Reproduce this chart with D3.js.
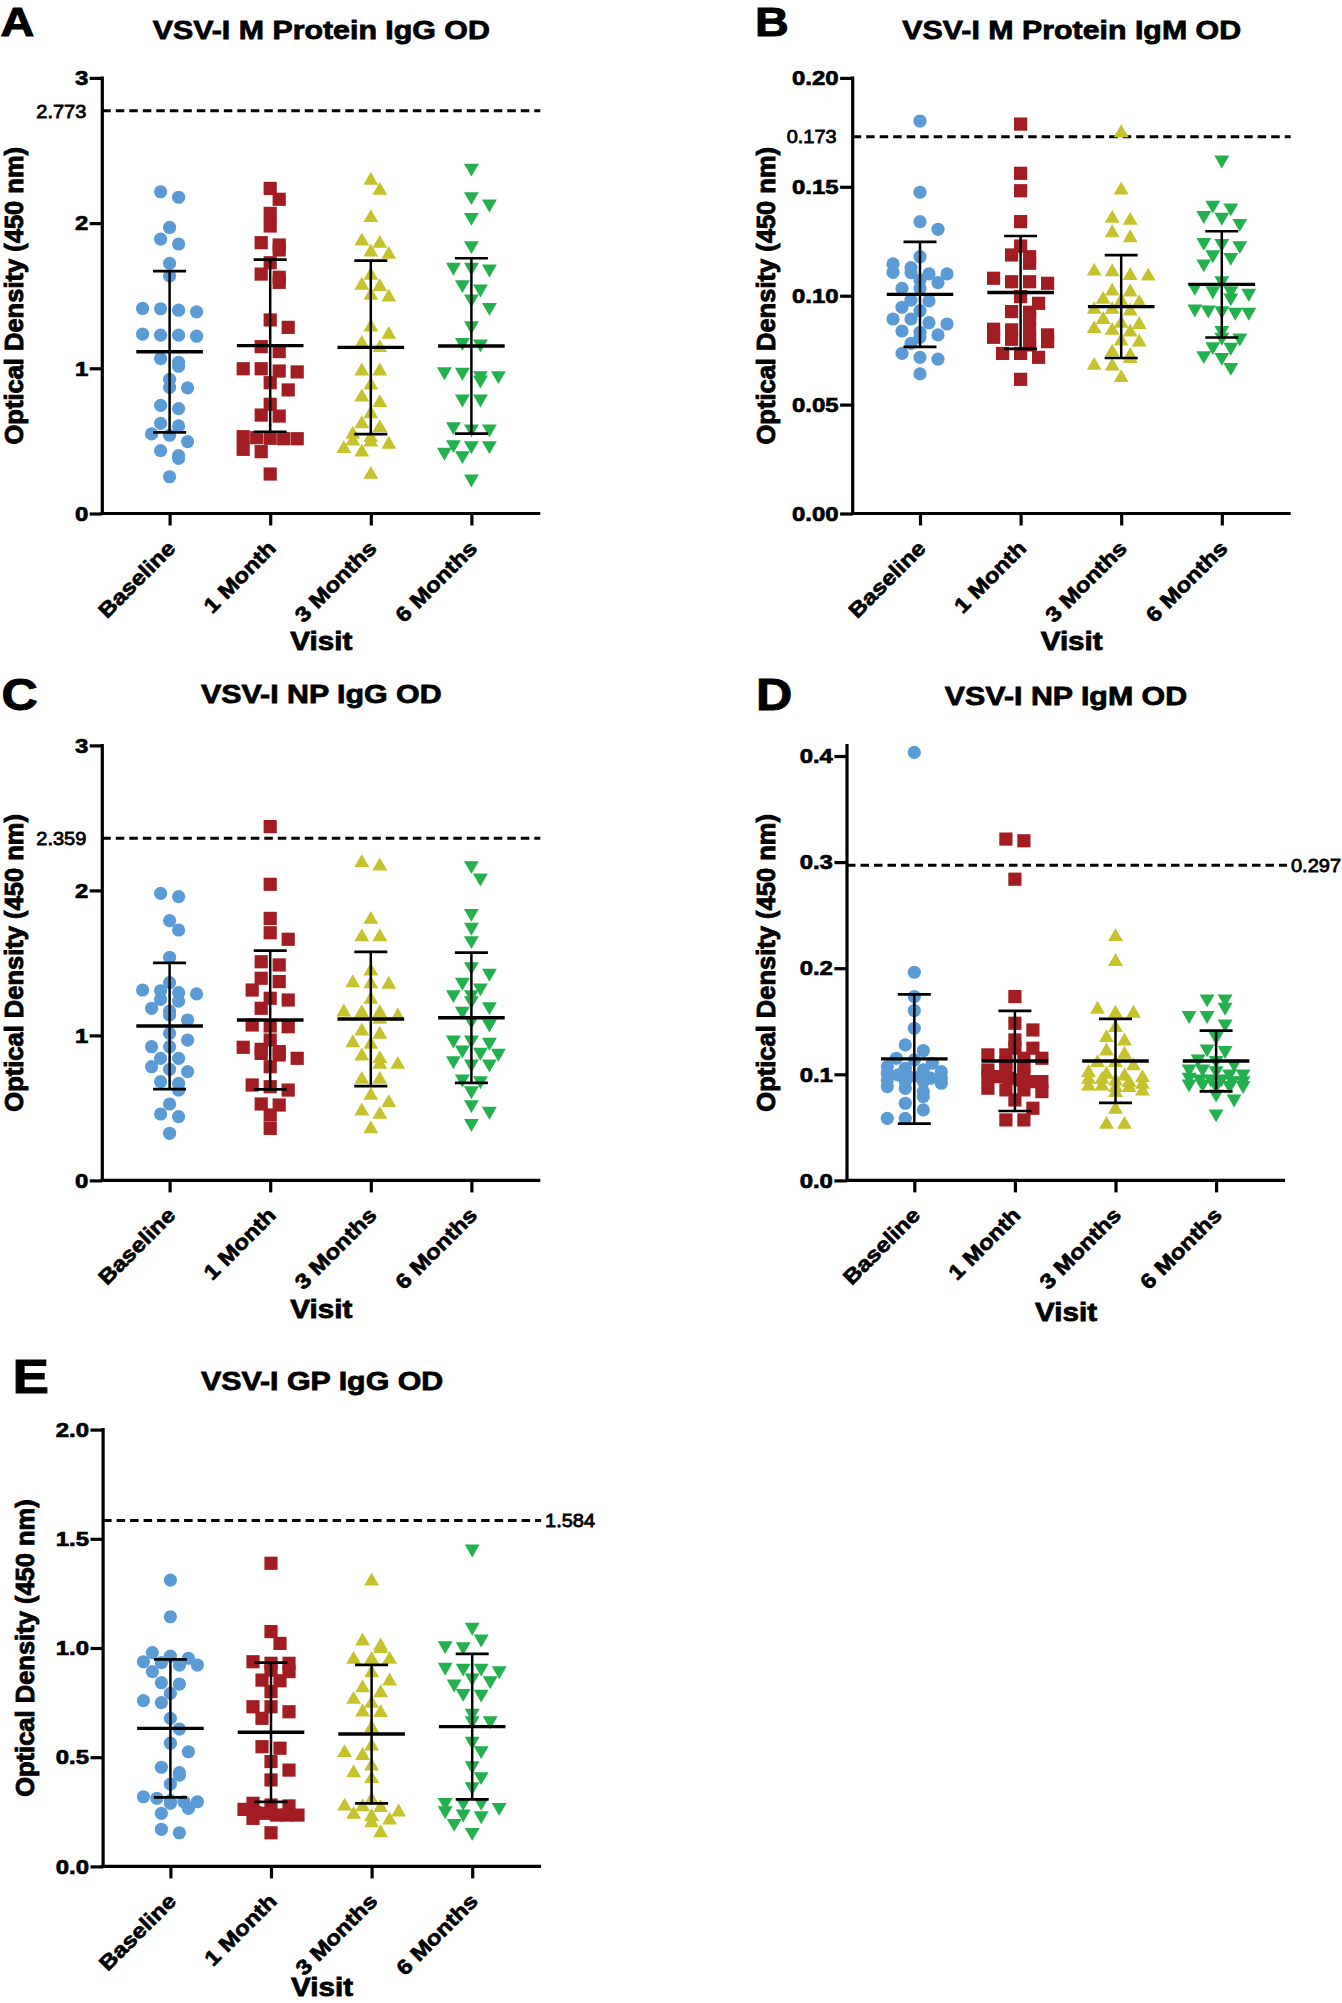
<!DOCTYPE html>
<html><head><meta charset="utf-8">
<script src="https://cdn.jsdelivr.net/npm/d3@7"></script>
<style>
body{margin:0;background:#fff}
svg{display:block}
text{font-family:"Liberation Sans",Arial,sans-serif;font-weight:bold;fill:#000;stroke:#000;stroke-width:0.6px;paint-order:stroke}
</style>
</head><body>
<svg id="chart" width="1342" height="2003"></svg>
<script>
// ---------------- DATA ----------------
const categories = ["Baseline", "1 Month", "3 Months", "6 Months"];
const panelLetters = ["A", "B", "C", "D", "E"];
const panelTitles = ["VSV-I M Protein IgG OD", "VSV-I M Protein IgM OD", "VSV-I NP IgG OD", "VSV-I NP IgM OD", "VSV-I GP IgG OD"];
const yAxisTitle = "Optical Density (450 nm)";
const xAxisTitle = "Visit";
const cutoffs = [2.773, 0.173, 2.359, 0.297, 1.584];
const cutoffLabels = ["2.773", "0.173", "2.359", "0.297", "1.584"];
const yTicksA = [0, 1, 2, 3];
const yTicksB = [0, 0.05, 0.10, 0.15, 0.20];
const yTicksC = [0, 1, 2, 3];
const yTicksD = [0, 0.1, 0.2, 0.3, 0.4];
const yTicksE = [0, 0.5, 1.0, 1.5, 2.0];
const yMaxes = [3, 0.2, 3, 0.41, 2];
const yTickFormats = ["d", ".2f", "d", ".1f", ".1f"];

// Panel A: VSV-I M Protein IgG OD
const mProteinIgG = [
  [2.216, 2.178, 1.970, 1.890, 1.856, 1.723, 1.636, 1.410, 1.412, 1.389, 1.400, 1.221, 1.228, 1.235, 1.228, 1.067, 1.041, 1.014, 0.924, 0.869, 0.865, 0.745, 0.722, 0.621, 0.603, 0.539, 0.548, 0.495, 0.398, 0.380, 0.433, 0.253],
  [2.239, 2.164, 2.067, 1.980, 1.865, 1.849, 1.815, 1.727, 1.649, 1.627, 1.592, 1.333, 1.282, 1.149, 1.115, 0.997, 0.997, 0.981, 0.975, 0.901, 0.851, 0.752, 0.678, 0.671, 0.515, 0.529, 0.522, 0.518, 0.515, 0.442, 0.426, 0.272],
  [2.290, 2.221, 2.033, 1.872, 1.856, 1.796, 1.780, 1.636, 1.558, 1.567, 1.486, 1.498, 1.280, 1.229, 1.167, 1.138, 0.977, 0.977, 0.880, 0.798, 0.759, 0.683, 0.614, 0.587, 0.541, 0.472, 0.495, 0.518, 0.488, 0.442, 0.419, 0.265],
  [2.383, 2.187, 2.136, 2.044, 1.849, 1.700, 1.688, 1.700, 1.581, 1.551, 1.482, 1.424, 1.298, 1.172, 1.183, 0.954, 0.981, 0.924, 0.954, 0.977, 0.793, 0.793, 0.587, 0.587, 0.603, 0.472, 0.479, 0.403, 0.472, 0.426, 0.242]
];
const mProteinIgGMean = [1.114, 1.156, 1.144, 1.154];
const mProteinIgGSD = [0.555, 0.593, 0.597, 0.604];

// Panel B: VSV-I M Protein IgM OD
const mProteinIgM = [
  [0.1802, 0.1475, 0.1340, 0.1305, 0.1179, 0.1146, 0.1100, 0.1106, 0.1100, 0.1129, 0.1107, 0.1072, 0.1060, 0.1034, 0.1034, 0.0980, 0.0976, 0.0947, 0.0931, 0.0893, 0.0876, 0.0893, 0.0870, 0.0832, 0.0838, 0.0809, 0.0820, 0.0781, 0.0717, 0.0735, 0.0709, 0.0641],
  [0.1788, 0.1562, 0.1482, 0.1340, 0.1228, 0.1179, 0.1187, 0.1149, 0.1064, 0.1064, 0.1057, 0.1080, 0.0996, 0.0924, 0.0965, 0.0927, 0.0896, 0.0843, 0.0820, 0.0843, 0.0846, 0.0809, 0.0797, 0.0774, 0.0789, 0.0717, 0.0616, 0.0735, 0.0735, 0.0800],
  [0.1745, 0.1482, 0.1352, 0.1343, 0.1286, 0.1263, 0.1107, 0.1087, 0.1090, 0.1110, 0.1014, 0.1018, 0.0980, 0.0934, 0.0965, 0.0973, 0.0927, 0.0934, 0.0870, 0.0888, 0.0846, 0.0838, 0.0865, 0.0830, 0.0784, 0.0789, 0.0723, 0.0738, 0.0677, 0.0708, 0.0674, 0.0621],
  [0.1626, 0.1406, 0.1371, 0.1419, 0.1363, 0.1335, 0.1248, 0.1243, 0.1233, 0.1191, 0.1179, 0.1149, 0.1072, 0.1026, 0.1014, 0.1041, 0.0993, 0.1026, 0.0937, 0.0934, 0.0942, 0.0927, 0.0927, 0.0809, 0.0769, 0.0812, 0.0766, 0.0728, 0.0720, 0.0674, 0.0843]
];
const mProteinIgMMean = [0.1006, 0.1015, 0.0950, 0.1052];
const mProteinIgMSD = [0.0241, 0.0259, 0.0236, 0.0244];

// Panel C: VSV-I NP IgG OD
const npIgG = [
  [1.980, 1.957, 1.791, 1.727, 1.538, 1.364, 1.295, 1.313, 1.286, 1.308, 1.237, 1.249, 1.187, 1.168, 1.141, 1.106, 1.014, 0.968, 0.922, 0.922, 0.842, 0.842, 0.766, 0.750, 0.784, 0.681, 0.669, 0.623, 0.527, 0.458, 0.440, 0.325],
  [2.440, 2.042, 1.807, 1.708, 1.663, 1.508, 1.486, 1.394, 1.371, 1.313, 1.256, 1.244, 1.187, 1.072, 1.060, 1.065, 0.968, 0.904, 0.842, 0.865, 0.876, 0.888, 0.918, 0.784, 0.658, 0.623, 0.646, 0.527, 0.520, 0.451, 0.359],
  [2.187, 2.164, 1.796, 1.676, 1.676, 1.440, 1.352, 1.348, 1.359, 1.244, 1.152, 1.106, 1.152, 1.129, 1.157, 1.003, 0.945, 0.934, 1.026, 0.835, 0.853, 0.796, 0.796, 0.692, 0.692, 0.532, 0.582, 0.474, 0.451, 0.352],
  [2.175, 2.090, 1.846, 1.750, 1.658, 1.433, 1.479, 1.332, 1.371, 1.286, 1.244, 1.286, 1.203, 1.171, 1.106, 1.083, 0.973, 0.973, 0.957, 0.904, 0.881, 0.888, 0.830, 0.807, 0.807, 0.692, 0.704, 0.623, 0.527, 0.481, 0.398]
];
const npIgGMean = [1.065, 1.106, 1.113, 1.122];
const npIgGSD = [0.435, 0.478, 0.463, 0.449];

// Panel D: VSV-I NP IgM OD
const npIgM = [
  [0.4034, 0.1962, 0.1733, 0.1601, 0.1434, 0.1277, 0.1224, 0.1151, 0.1136, 0.0963, 0.1010, 0.0978, 0.0947, 0.0994, 0.1041, 0.0931, 0.0931, 0.0884, 0.1025, 0.0868, 0.0837, 0.0916, 0.1104, 0.1073, 0.0727, 0.0664, 0.0585, 0.0585, 0.1057, 0.0978, 0.0963, 0.0790],
  [0.3217, 0.3201, 0.2839, 0.1733, 0.1481, 0.1418, 0.1324, 0.1246, 0.1246, 0.1151, 0.1183, 0.1151, 0.1183, 0.1104, 0.1041, 0.1073, 0.1041, 0.0931, 0.0947, 0.0963, 0.0931, 0.0978, 0.0978, 0.0853, 0.0853, 0.0837, 0.0869, 0.0680, 0.0570, 0.0570, 0.0758, 0.1010],
  [0.2292, 0.2057, 0.1607, 0.1569, 0.1569, 0.1434, 0.1340, 0.1308, 0.1214, 0.1183, 0.1104, 0.1104, 0.1073, 0.0931, 0.0947, 0.0963, 0.0978, 0.0947, 0.1010, 0.0900, 0.0884, 0.0868, 0.0868, 0.0884, 0.0821, 0.0837, 0.0664, 0.0522, 0.0522, 0.0994, 0.0916],
  [0.1717, 0.1717, 0.1638, 0.1560, 0.1560, 0.1481, 0.1362, 0.1246, 0.1230, 0.1151, 0.1136, 0.1041, 0.1057, 0.1057, 0.0963, 0.0963, 0.0947, 0.0978, 0.0963, 0.0947, 0.0900, 0.0900, 0.0916, 0.0916, 0.0821, 0.0774, 0.0633, 0.1010, 0.1010, 0.0900, 0.1104]
];
const npIgMMean = [0.1145, 0.1126, 0.1126, 0.1126];
const npIgMSD = [0.0609, 0.0472, 0.0396, 0.0286];

// Panel E: VSV-I GP IgG OD
const gpIgG = [
  [1.311, 1.143, 0.963, 0.933, 0.937, 0.979, 0.953, 0.922, 0.922, 0.892, 0.841, 0.835, 0.792, 0.759, 0.750, 0.678, 0.629, 0.564, 0.525, 0.454, 0.418, 0.429, 0.377, 0.296, 0.319, 0.312, 0.301, 0.289, 0.296, 0.243, 0.266, 0.154, 0.170],
  [1.388, 1.075, 1.021, 0.937, 0.930, 0.899, 0.892, 0.853, 0.850, 0.800, 0.708, 0.731, 0.678, 0.548, 0.541, 0.480, 0.441, 0.396, 0.281, 0.277, 0.289, 0.261, 0.246, 0.243, 0.235, 0.235, 0.220, 0.235, 0.154, 0.731, 0.930],
  [1.304, 0.994, 1.006, 1.029, 0.945, 0.945, 0.945, 0.884, 0.846, 0.815, 0.792, 0.762, 0.744, 0.701, 0.704, 0.632, 0.548, 0.518, 0.505, 0.457, 0.426, 0.399, 0.246, 0.270, 0.273, 0.266, 0.301, 0.209, 0.197, 0.225, 0.235, 0.151],
  [1.456, 1.098, 1.044, 1.014, 1.009, 0.899, 0.915, 0.911, 0.911, 0.866, 0.853, 0.838, 0.795, 0.792, 0.704, 0.670, 0.670, 0.576, 0.533, 0.464, 0.414, 0.368, 0.296, 0.296, 0.273, 0.296, 0.258, 0.235, 0.243, 0.200, 0.159]
];
const gpIgGMean = [0.632, 0.614, 0.606, 0.640];
const gpIgGSD = [0.316, 0.319, 0.317, 0.333];

// ---------------- STYLE / LAYOUT ----------------
const groupColors = ["#5B9BD5", "#A11D21", "#C6C22B", "#22B14C"];
const groupSymbols = [d3.symbolCircle, d3.symbolSquare, d3.symbolTriangle, d3.symbolTriangle];
const groupSymbolSizes = [137, 174, 96, 96];
const groupRotate = [0, 0, 0, 180];

const panels = [
  {data: mProteinIgG, mean: mProteinIgGMean, sd: mProteinIgGSD, ticks: yTicksA,
   x0: 102.3, top: 77.9, bot: 513.5, ylabX: 23, letterX: 0.5, letterY: 36, letterSize: 41, titleY: 38.7, cutSide: "left", visitY: 650},
  {data: mProteinIgM, mean: mProteinIgMMean, sd: mProteinIgMSD, ticks: yTicksB,
   x0: 852.7, top: 77.9, bot: 513.5, ylabX: 775, letterX: 755, letterY: 36, letterSize: 41, titleY: 38.7, cutSide: "left", visitY: 650},
  {data: npIgG, mean: npIgGMean, sd: npIgGSD, ticks: yTicksC,
   x0: 102.3, top: 745.4, bot: 1180.4, ylabX: 23, letterX: 1.5, letterY: 710, letterSize: 44, titleY: 703.4, cutSide: "left", visitY: 1318},
  {data: npIgM, mean: npIgMMean, sd: npIgMSD, ticks: yTicksD,
   x0: 847, top: 745.4, bot: 1180.4, ylabX: 775, letterX: 756, letterY: 709.5, letterSize: 44, titleY: 704.7, cutSide: "right", visitY: 1321},
  {data: gpIgG, mean: gpIgGMean, sd: gpIgGSD, ticks: yTicksE,
   x0: 103.1, top: 1429.6, bot: 1866.4, ylabX: 33.7, letterX: 12.5, letterY: 1392.5, letterSize: 48, titleY: 1389.9, cutSide: "right", visitY: 1996}
];
const plotW = 438, firstCat = 67.3, catStep = 100.6;
const STRETCH = 1.14;

const svg = d3.select("#chart");

function stretch(sel, k) {
  sel.each(function () {
    const L = this.getComputedTextLength();
    this.setAttribute("textLength", (L * k).toFixed(2));
    this.setAttribute("lengthAdjust", "spacingAndGlyphs");
  });
}

// GraphPad-like scatter layout: rows of near-equal values spread symmetrically
function swarm(values, y, step = 18, minD = 12.5, maxHalf = 27) {
  const pts = values.map((v, i) => ({v, i, y: y(v), dx: 0}));
  const sorted = pts.slice().sort((a, b) => a.y - b.y);
  const rows = [];
  sorted.forEach(p => {
    const r = rows[rows.length - 1];
    if (r && p.y - r[0].y <= 6) r.push(p); else rows.push([p]);
  });
  const placed = [];
  rows.forEach(row => {
    const n = row.length;
    const s = n > 1 ? Math.min(step, 2 * maxHalf / (n - 1)) : step;
    const base = row.map((p, k) => (k - (n - 1) / 2) * s);
    const half = (n - 1) / 2 * s;
    const shifts = [0, s / 2, -s / 2, s, -s].filter(sh => Math.abs(sh) + half <= maxHalf + 0.01);
    let best = 0, bestC = Infinity;
    for (const sh of shifts) {
      let c = 0;
      row.forEach((p, k) => {
        placed.forEach(q => {
          if (Math.hypot(base[k] + sh - q.dx, p.y - q.y) < minD) c++;
        });
      });
      if (c < bestC) { bestC = c; best = sh; }
      if (c === 0) break;
    }
    row.forEach((p, k) => { p.dx = base[k] + best; placed.push(p); });
  });
  return pts;
}

panels.forEach((P, pi) => {
  const g = svg.append("g");
  const y = d3.scaleLinear().domain([0, yMaxes[pi]]).range([P.bot, P.top]);
  const x = d3.scalePoint().domain(categories)
    .range([P.x0 + firstCat, P.x0 + firstCat + 3 * catStep]);

  // Panel letter
  g.append("text").attr("x", P.letterX).attr("y", P.letterY)
    .style("font-size", P.letterSize + "px").style("stroke-width", "1px")
    .text(panelLetters[pi]).call(stretch, STRETCH);

  // Title
  g.append("text").attr("x", P.x0 + plotW / 2).attr("y", P.titleY)
    .attr("text-anchor", "middle").style("font-size", "26.5px").style("stroke-width", "0.8px")
    .text(panelTitles[pi]).call(stretch, 1.145);

  // Cutoff dashed line
  const cy = y(cutoffs[pi]);
  const xEnd = P.x0 + plotW + (pi === 3 ? 2 : 0);
  g.append("line").attr("x1", P.x0).attr("x2", xEnd).attr("y1", cy).attr("y2", cy)
    .attr("stroke", "#000").attr("stroke-width", 3).attr("stroke-dasharray", "8.5,5");
  const cl = g.append("text").attr("y", cy).attr("dy", "0.36em")
    .style("font-size", "18.5px").style("font-weight", "normal").style("stroke-width", "0.8px")
    .text(cutoffLabels[pi]);
  if (P.cutSide === "left") cl.attr("x", P.x0 - 16).attr("text-anchor", "end");
  else cl.attr("x", xEnd + 4).attr("text-anchor", "start");
  cl.call(stretch, 1.08);

  // Points
  P.data.forEach((vals, gi) => {
    const pts = swarm(vals, y);
    const cx = x(categories[gi]);
    const sym = d3.symbol().type(groupSymbols[gi]).size(groupSymbolSizes[gi]);
    g.append("g").selectAll("path").data(pts).join("path")
      .attr("d", sym)
      .attr("transform", d => `translate(${cx + d.dx},${d.y + (gi >= 2 ? (gi === 2 ? -0.5 : 0.5) : 0)}) rotate(${groupRotate[gi]})`)
      .attr("fill", groupColors[gi]);
  });

  // Mean and SD bars
  P.mean.forEach((m, gi) => {
    const cx = x(categories[gi]);
    const yHi = y(m + P.sd[gi]), yLo = y(m - P.sd[gi]), yM = y(m);
    const eg = g.append("g").attr("stroke", "#000");
    eg.append("line").attr("x1", cx).attr("x2", cx).attr("y1", yHi).attr("y2", yLo).attr("stroke-width", 2.5);
    eg.append("line").attr("x1", cx - 16.5).attr("x2", cx + 16.5).attr("y1", yHi).attr("y2", yHi).attr("stroke-width", 2.7);
    eg.append("line").attr("x1", cx - 16.5).attr("x2", cx + 16.5).attr("y1", yLo).attr("y2", yLo).attr("stroke-width", 2.7);
    eg.append("line").attr("x1", cx - 33.3).attr("x2", cx + 33.3).attr("y1", yM).attr("y2", yM).attr("stroke-width", 3.4);
  });

  // Y axis
  const yAxis = d3.axisLeft(y).tickValues(P.ticks).tickFormat(d3.format(yTickFormats[pi]))
    .tickSize(12.6).tickPadding(1.5).tickSizeOuter(0);
  const ya = g.append("g").attr("transform", `translate(${P.x0},0)`).call(yAxis);
  ya.select(".domain").remove();
  ya.append("line").attr("x1", 0).attr("x2", 0).attr("y1", P.top - 1.5).attr("y2", P.bot + 1.5)
    .attr("stroke", "#000").attr("stroke-width", 3.2);
  ya.selectAll(".tick line").attr("stroke", "#000").attr("stroke-width", 3.2);
  ya.selectAll(".tick text").attr("fill", "#000").style("font-size", "21px")
    .style("font-family", '"Liberation Sans",Arial,sans-serif').style("font-weight", "bold")
    .style("stroke-width", "0.7px")
    .call(stretch, STRETCH);

  // X axis
  const xAxis = d3.axisBottom(x).tickSize(12).tickSizeOuter(0).tickFormat("");
  const xa = g.append("g").attr("transform", `translate(0,${P.bot})`).call(xAxis);
  xa.select(".domain").remove();
  xa.append("line").attr("x1", P.x0 - 1.6).attr("x2", P.x0 + plotW).attr("y1", 0).attr("y2", 0)
    .attr("stroke", "#000").attr("stroke-width", 3.2);
  xa.selectAll(".tick line").attr("stroke", "#000").attr("stroke-width", 3.2);
  g.append("g").selectAll("text").data(categories).join("text")
    .attr("transform", d => `translate(${x(d) + 7},${P.bot + 36}) rotate(-45)`)
    .attr("text-anchor", "end").style("font-size", "21px").style("stroke-width", "0.7px")
    .text(d => d).call(stretch, STRETCH);

  // Axis titles
  g.append("text").attr("transform", `translate(${P.ylabX},${(P.top + P.bot) / 2}) rotate(-90)`)
    .attr("text-anchor", "middle").style("font-size", "25.5px").style("stroke-width", "0.9px").text(yAxisTitle);
  g.append("text").attr("x", P.x0 + plotW / 2).attr("y", P.visitY)
    .attr("text-anchor", "middle").style("font-size", "26px").style("stroke-width", "0.8px")
    .text(xAxisTitle).call(stretch, STRETCH);
});
</script>
</body></html>
